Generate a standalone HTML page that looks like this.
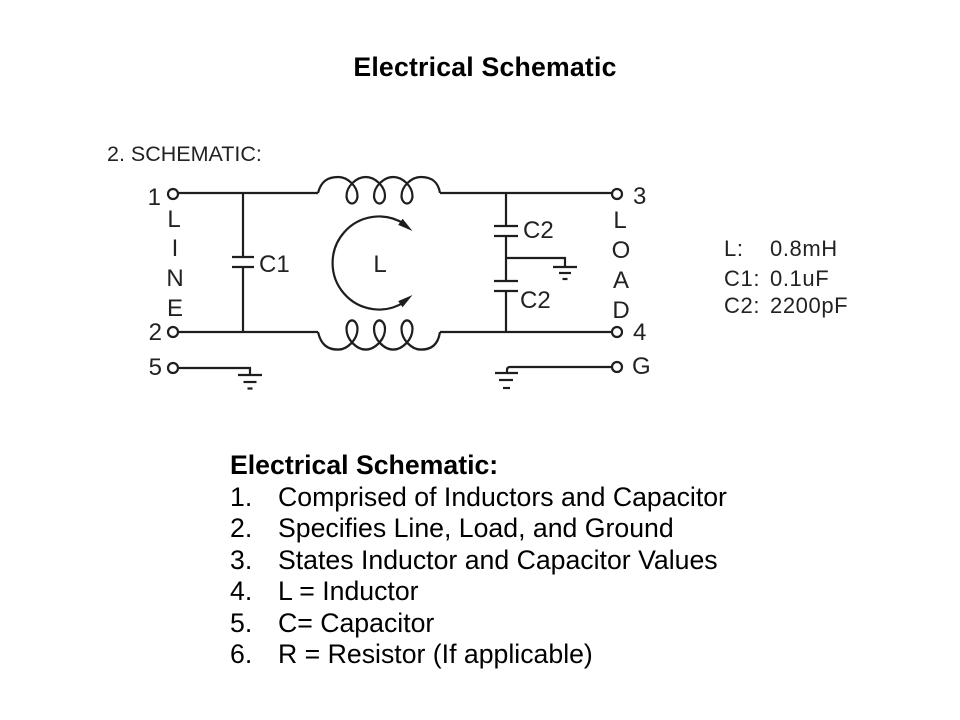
<!DOCTYPE html>
<html>
<head>
<meta charset="utf-8">
<style>
  html, body { margin: 0; padding: 0; background: #ffffff; }
  body { width: 960px; height: 720px; overflow: hidden; }
  svg { display: block; }
  .t { font-family: "Liberation Sans", Arial, sans-serif; }
</style>
</head>
<body>
<svg width="960" height="720" viewBox="0 0 960 720" xmlns="http://www.w3.org/2000/svg">
  <rect x="0" y="0" width="960" height="720" fill="#ffffff"/>

  <!-- Title -->
  <text class="t" x="485" y="76" text-anchor="middle" font-size="26.67" font-weight="bold" fill="#000" letter-spacing="0.2">Electrical Schematic</text>

  <!-- Schematic heading -->
  <text class="t" x="107" y="161" font-size="21.5" fill="#222">2. SCHEMATIC:</text>

  <g stroke="#1e1e1e" stroke-width="2.2" fill="none" stroke-linecap="butt">
    <!-- Terminals left -->
    <circle cx="173" cy="194" r="5"/>
    <circle cx="173" cy="332" r="5"/>
    <circle cx="173" cy="368" r="5"/>
    <!-- Terminals right -->
    <circle cx="617" cy="194" r="5"/>
    <circle cx="617" cy="332" r="5"/>
    <circle cx="617" cy="367" r="5"/>

    <!-- Top wire -->
    <line x1="178" y1="193" x2="318" y2="193"/>
    <line x1="440" y1="193" x2="612" y2="193"/>
    <!-- Bottom wire -->
    <line x1="178" y1="332" x2="318" y2="332"/>
    <line x1="440" y1="332" x2="612" y2="332"/>

    <!-- C1 -->
    <line x1="243" y1="193" x2="243" y2="257"/>
    <line x1="243" y1="267" x2="243" y2="332"/>
    <line x1="232" y1="257" x2="254" y2="257"/>
    <line x1="232" y1="267" x2="254" y2="267"/>

    <!-- C2 pair -->
    <line x1="506" y1="193" x2="506" y2="226"/>
    <line x1="506" y1="236" x2="506" y2="281"/>
    <line x1="506" y1="291" x2="506" y2="332"/>
    <line x1="494" y1="226" x2="518" y2="226"/>
    <line x1="494" y1="236" x2="518" y2="236"/>
    <line x1="494" y1="281" x2="518" y2="281"/>
    <line x1="494" y1="291" x2="518" y2="291"/>

    <!-- Middle ground -->
    <polyline points="506,258 565,258 565,267"/>
    <line x1="553" y1="267" x2="577" y2="267"/>
    <line x1="559" y1="273" x2="571" y2="273"/>
    <line x1="562.5" y1="279" x2="567.5" y2="279"/>

    <!-- Ground for terminal 5 -->
    <polyline points="178,368 250,368 250,375"/>
    <line x1="238" y1="375" x2="262" y2="375"/>
    <line x1="243.5" y1="382" x2="256.5" y2="382"/>
    <line x1="247.5" y1="388.5" x2="252.5" y2="388.5"/>

    <!-- Ground for G terminal -->
    <path d="M612 367 L510 367 Q507 367 507 370 L507 373"/>
    <line x1="495" y1="373" x2="518" y2="373"/>
    <line x1="499" y1="380" x2="513" y2="380"/>
    <line x1="503" y1="388" x2="510" y2="388"/>

    <!-- Top inductor -->
    <path d="M 318 193 C 321 181, 328 177, 338.25 177
      C 347.25 177, 357.5 186, 357.5 196
      C 357.5 200, 355 203.5, 352 203.5
      C 349 203.5, 346.5 200, 346.5 196
      C 346.5 186, 356.75 177, 365.75 177
      C 374.75 177, 385 186, 385 196
      C 385 200, 382.5 203.5, 379.5 203.5
      C 376.5 203.5, 374 200, 374 196
      C 374 186, 384.25 177, 393.25 177
      C 402.25 177, 412.5 186, 412.5 196
      C 412.5 200, 410 203.5, 407 203.5
      C 404 203.5, 401.5 200, 401.5 196
      C 401.5 186, 411.75 177, 420.75 177
      C 431 177, 438 181, 440 193"/>
    <!-- Bottom inductor (mirrored) -->
    <path transform="matrix(1 0 0 -1.1 0 544.3)" d="M 318 193 C 321 181, 328 177, 338.25 177
      C 347.25 177, 357.5 186, 357.5 196
      C 357.5 200, 355 203.5, 352 203.5
      C 349 203.5, 346.5 200, 346.5 196
      C 346.5 186, 356.75 177, 365.75 177
      C 374.75 177, 385 186, 385 196
      C 385 200, 382.5 203.5, 379.5 203.5
      C 376.5 203.5, 374 200, 374 196
      C 374 186, 384.25 177, 393.25 177
      C 402.25 177, 412.5 186, 412.5 196
      C 412.5 200, 410 203.5, 407 203.5
      C 404 203.5, 401.5 200, 401.5 196
      C 401.5 186, 411.75 177, 420.75 177
      C 431 177, 438 181, 440 193"/>

    <!-- Circular arrow -->
    <path d="M 404.4 224 A 46.5 46.5 0 1 0 404.4 302"/>
  </g>

  <!-- Arrowheads -->
  <polygon points="412.5,231 398.2,224.9 402.6,218.8" fill="#1e1e1e"/>
  <polygon points="412.5,295 398.2,301.1 402.6,307.2" fill="#1e1e1e"/>

  <!-- Schematic labels -->
  <g class="t" font-size="24" fill="#222">
    <text x="161" y="205" text-anchor="end">1</text>
    <text x="162" y="340" text-anchor="end">2</text>
    <text x="162" y="375" text-anchor="end">5</text>

    <text x="174" y="227" text-anchor="middle">L</text>
    <text x="175" y="256" text-anchor="middle">I</text>
    <text x="175" y="286" text-anchor="middle">N</text>
    <text x="175" y="316" text-anchor="middle">E</text>

    <text x="633" y="204">3</text>
    <text x="633" y="340">4</text>
    <text x="632" y="374">G</text>

    <text x="620" y="228" text-anchor="middle">L</text>
    <text x="621" y="258" text-anchor="middle">O</text>
    <text x="621" y="288" text-anchor="middle">A</text>
    <text x="621" y="318" text-anchor="middle">D</text>

    <text x="259" y="272">C1</text>
    <text x="523" y="238">C2</text>
    <text x="520" y="308">C2</text>
  </g>
  <text class="t" x="380" y="272" text-anchor="middle" font-size="24" fill="#222">L</text>

  <!-- Values table -->
  <g class="t" font-size="22" fill="#222" letter-spacing="0.6">
    <text x="724" y="256">L:</text>
    <text x="770" y="256">0.8mH</text>
    <text x="724" y="286">C1:</text>
    <text x="770" y="286">0.1uF</text>
    <text x="724" y="313">C2:</text>
    <text x="770" y="313">2200pF</text>
  </g>

  <!-- Bottom list -->
  <g class="t" font-size="26.67" fill="#000">
    <text x="230" y="474" font-weight="bold">Electrical Schematic:</text>
    <text x="230" y="506">1.</text>
    <text x="278" y="506">Comprised of Inductors and Capacitor</text>
    <text x="230" y="537">2.</text>
    <text x="278" y="537">Specifies Line, Load, and Ground</text>
    <text x="230" y="569">3.</text>
    <text x="278" y="569">States Inductor and Capacitor Values</text>
    <text x="230" y="600">4.</text>
    <text x="278" y="600">L = Inductor</text>
    <text x="230" y="632">5.</text>
    <text x="278" y="632">C= Capacitor</text>
    <text x="230" y="663">6.</text>
    <text x="278" y="663">R = Resistor (If applicable)</text>
  </g>
</svg>
</body>
</html>
